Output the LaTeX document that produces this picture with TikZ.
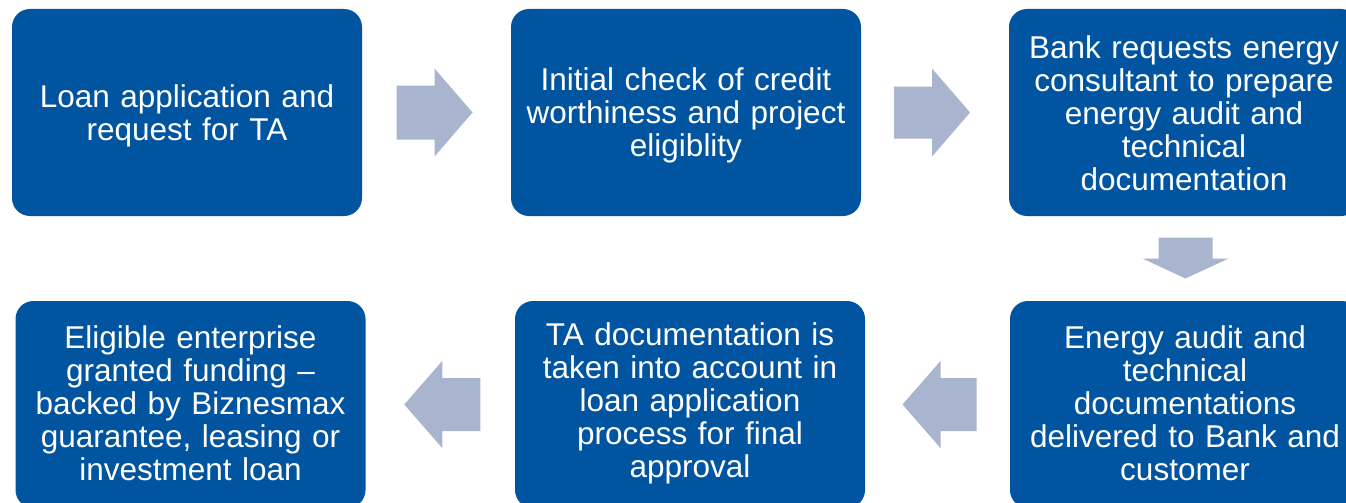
\documentclass[tikz,border=0pt]{standalone}
\usepackage{fontspec}
\setmainfont{Liberation Sans}
\usetikzlibrary{calc}
\definecolor{boxblue}{HTML}{0054A0}
\definecolor{arrowgrey}{HTML}{A9B4CF}
\tikzset{
  stepbox/.style={fill=boxblue, rounded corners=18pt, minimum width=350pt,
    minimum height=207pt, inner sep=0pt},
  steptext/.style={inner sep=0pt, text width=340pt, align=center,
    text=white, font=\fontsize{31.5}{33}\selectfont},
  flowarrow/.style={fill=arrowgrey}
}
\begin{document}
\begin{tikzpicture}[x=1pt,y=-1pt]
  \useasboundingbox (0,0) rectangle (1346,503);
  \clip (0,0) rectangle (1346,503);
  \fill[white] (0,0) rectangle (1346,503);

  % process steps, top row left to right, bottom row right to left
  \node[stepbox] (b1) at (187,112.5) {};
  \node[stepbox] (b2) at (686,112.5) {};
  \node[stepbox] (b3) at (1184,112.5) {};
  \node[stepbox] (b6) at (1185,404.5) {};
  \node[stepbox] (b5) at (690,404.5) {};
  \node[stepbox] (b4) at (190.5,404.5) {};

  \node[steptext] (t1) at ($(b1.center)+(0,3.5)$) {Loan application and\\request for TA};
  \node[steptext] (t2) at ($(b2.center)+(0,3)$) {Initial check of credit\\worthiness and project\\eligiblity};
  \node[steptext] (t3) at ($(b3.center)+(0,1)$) {Bank requests energy\\consultant to prepare\\energy audit and\\technical\\documentation};
  \node[steptext] (t6) at ($(b6.center)+(0,-1)$) {Energy audit and\\technical\\documentations\\delivered to Bank and\\customer};
  \node[steptext] (t5) at ($(b5.center)+(0,-1)$) {TA documentation is\\taken into account in\\loan application\\process for final\\approval};
  \node[steptext] (t4) at ($(b4.center)+(0,-1)$) {Eligible enterprise\\granted funding --\\backed by Biznesmax\\guarantee, leasing or\\investment loan};

  % block arrows between the steps
  \coordinate (m12) at ($(b1.east)!0.5!(b2.west)+(-2,0)$);
  \coordinate (m23) at ($(b2.east)!0.5!(b3.west)+(-3,0)$);
  \coordinate (m36) at ($(b3.south)!0.5!(b6.north)+(1,0)$);
  \coordinate (m65) at ($(b6.west)!0.5!(b5.east)+(2,0)$);
  \coordinate (m54) at ($(b5.west)!0.5!(b4.east)+(2,0)$);

  \fill[flowarrow, shift={(m12)}] (-38,-27) -- (0,-27) -- (0,-44) -- (38,0)
    -- (0,44) -- (0,27) -- (-38,27) -- cycle;
  \fill[flowarrow, shift={(m23)}] (-38,-26) -- (0,-26) -- (0,-44) -- (38,0)
    -- (0,44) -- (0,26) -- (-38,26) -- cycle;
  \fill[flowarrow, shift={(m36)}] (-27,-21) -- (27,-21) -- (27,0) -- (43,0)
    -- (0,20) -- (-43,0) -- (-27,0) -- cycle;
  \fill[flowarrow, shift={(m65)}] (37,-26.5) -- (1,-26.5) -- (1,-43.5) -- (-37,0)
    -- (1,43.5) -- (1,26.5) -- (37,26.5) -- cycle;
  \fill[flowarrow, shift={(m54)}] (38,-26.5) -- (0,-26.5) -- (0,-43.5) -- (-38,0)
    -- (0,43.5) -- (0,26.5) -- (38,26.5) -- cycle;
\end{tikzpicture}
\end{document}
